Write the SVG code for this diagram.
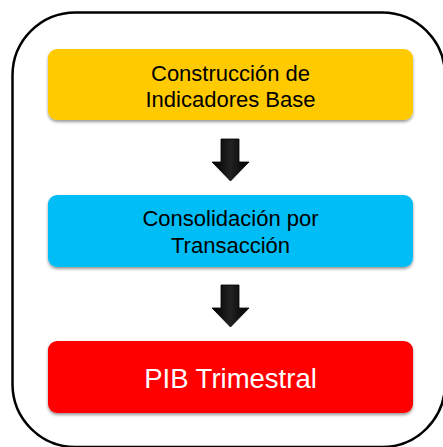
<svg xmlns="http://www.w3.org/2000/svg" width="443" height="447" viewBox="0 0 443 447">
<style>
.box{stroke:none;filter:url(#sh)}
.t{font-family:"Liberation Sans",Arial,sans-serif;text-anchor:middle}
.dark{fill:#000;font-size:22px}
.arrow{fill:url(#ag);stroke:#000;stroke-width:0.8}
</style>
<defs>
<filter id="sh" x="-5%" y="-10%" width="110%" height="130%">
<feDropShadow dx="0" dy="2" stdDeviation="1.5" flood-color="#000" flood-opacity="0.4"/>
</filter>
<linearGradient id="ag" x1="0" x2="1" y1="0" y2="0">
<stop offset="0" stop-color="#000"/>
<stop offset="0.5" stop-color="#222"/>
<stop offset="1" stop-color="#000"/>
</linearGradient>
</defs>
<rect x="12.5" y="12.5" width="432.5" height="434.5" rx="63" ry="63" fill="#fff" stroke="#000" stroke-width="2.5"/>
<g id="connectors">
<polygon class="arrow" points="221,139 239,139 239,162 249,162 230.5,181 212,162 221,162"/>
<polygon class="arrow" points="221,285 239,285 239,308 249,308 230.5,327 212,308 221,308"/>
</g>
<g id="node-construccion">
<rect class="box" x="48" y="49" width="365" height="71" rx="9" fill="#FFCA00"/>
<text class="t dark" x="230.5" y="81">Construcción de</text>
<text class="t dark" x="230.5" y="107">Indicadores Base</text>
</g>
<g id="node-consolidacion">
<rect class="box" x="48" y="195" width="365" height="72" rx="9" fill="#00BDF6"/>
<text class="t dark" x="230.5" y="226">Consolidación por</text>
<text class="t dark" x="230.5" y="253">Transacción</text>
</g>
<g id="node-pib">
<rect class="box" x="48" y="341" width="365" height="72" rx="9" fill="#FE0000"/>
<text class="t" x="230.5" y="388" font-size="27.5" fill="#fff">PIB Trimestral</text>
</g>
</svg>
